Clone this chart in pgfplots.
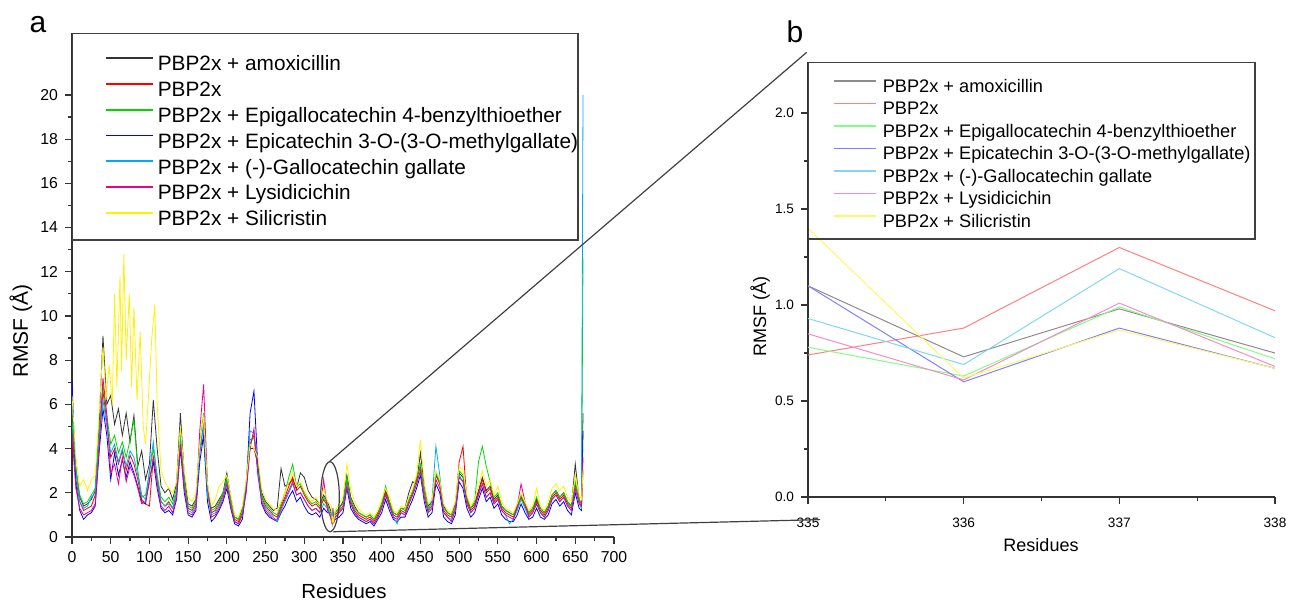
\documentclass[border=0pt]{standalone}
\usepackage{pgfplots}
\pgfplotsset{compat=1.18}
\usepackage{pgfplotstable}
\usepackage{fontspec}
\setmainfont{Liberation Sans}

\pgfplotstableread{
x A R G B C M
0 5.0 4.8 5.2 7.1 6.0 4.6
5 3.0 2.6 3.2 2.4 3.0 2.2
10 1.8 1.6 1.9 1.2 1.6 1.3
15 1.4 1.2 1.5 0.8 1.3 1.0
20 1.5 1.3 1.6 1.0 1.4 1.1
25 1.7 1.4 1.9 1.1 1.8 1.2
30 2.1 1.9 2.2 1.4 2.0 1.5
35 5.0 4.3 4.8 3.8 4.4 4.0
40 9.1 6.6 6.9 5.8 6.2 7.2
45 6.0 5.2 5.5 4.6 5.0 5.5
50 6.4 3.6 4.2 2.6 3.8 2.9
55 5.1 4.0 4.6 3.8 4.2 3.3
60 5.8 3.3 3.8 2.8 3.4 2.4
65 4.6 3.9 4.3 3.5 4.0 3.6
70 5.6 3.0 3.6 2.7 3.2 2.5
75 4.3 3.7 4.4 3.4 3.9 3.2
80 5.5 3.3 5.3 2.9 3.6 2.8
85 3.2 2.6 3.0 2.3 2.8 2.2
90 3.9 1.7 1.8 1.6 1.9 1.5
95 2.6 1.5 1.9 1.5 1.7 1.6
100 3.3 1.4 2.9 2.6 3.0 2.5
105 6.2 3.6 4.0 3.4 4.3 3.6
110 4.0 2.6 2.8 2.2 2.6 2.4
115 2.3 1.6 1.8 1.3 1.6 1.4
120 2.0 1.4 1.6 1.1 1.4 1.2
125 2.2 1.6 1.8 1.2 1.5 1.4
130 1.7 1.3 1.5 1.0 1.3 1.1
135 2.4 2.0 2.2 1.7 2.0 1.8
140 5.6 4.6 4.8 4.0 4.5 4.2
145 2.8 2.4 2.6 2.0 2.3 2.2
150 1.5 1.3 1.4 1.0 1.2 1.1
155 1.4 1.2 1.3 0.9 1.1 1.0
160 1.7 1.5 1.6 1.2 1.4 1.3
165 4.0 3.8 4.2 3.4 3.9 4.8
170 4.5 5.2 5.6 4.6 5.0 6.9
175 2.2 2.0 2.2 1.6 1.9 2.4
180 1.3 1.1 1.2 0.7 1.0 0.9
185 1.4 1.2 1.3 0.9 1.1 1.0
190 1.7 1.5 1.6 1.2 1.4 1.3
195 2.0 1.9 2.0 1.6 1.8 1.7
200 2.9 2.6 2.7 2.2 2.5 2.4
205 1.8 1.6 1.7 1.3 1.5 1.4
210 0.9 0.8 0.9 0.6 0.7 0.7
215 0.8 0.7 0.8 0.5 0.6 0.6
220 1.3 1.1 1.2 0.8 1.0 1.0
225 2.4 2.2 2.3 2.2 2.4 2.0
230 4.0 4.2 4.4 5.6 4.8 4.0
235 4.0 4.6 4.5 6.6 4.7 4.9
240 3.3 3.0 3.4 3.2 3.0 2.8
245 2.0 1.8 1.9 1.5 1.7 1.6
250 1.6 1.4 1.5 1.1 1.3 1.2
255 1.4 1.2 1.3 0.9 1.1 1.0
260 1.2 1.0 1.1 0.8 0.9 0.8
265 1.3 0.9 1.0 0.7 0.7 0.8
270 3.1 1.4 1.5 1.1 1.2 1.3
275 2.3 1.8 2.0 1.4 1.6 1.7
280 2.4 2.3 2.7 1.8 2.0 2.1
285 2.6 2.7 3.3 2.1 2.4 2.5
290 2.2 2.1 2.3 1.6 1.9 1.9
295 2.9 2.3 2.4 1.8 2.0 2.0
300 2.7 1.9 2.0 1.4 1.7 1.7
305 2.1 1.6 1.7 1.1 1.4 1.4
310 1.8 1.4 1.5 1.0 1.2 1.2
315 1.7 1.5 1.6 1.1 1.3 1.3
320 1.5 1.3 1.4 0.9 1.1 1.1
325 1.9 1.7 1.8 1.3 1.5 2.6
330 1.6 1.4 1.5 1.1 1.3 1.2
335 1.10 0.74 0.78 1.10 0.93 0.85
336 0.73 0.88 0.63 0.60 0.69 0.61
337 0.98 1.30 0.99 0.88 1.19 1.01
338 0.75 0.97 0.72 0.67 0.83 0.68
340 1.1 1.0 1.1 0.8 0.9 0.9
345 1.3 1.2 1.3 0.9 1.1 1.1
350 1.6 1.4 1.5 1.1 1.3 1.3
355 2.8 2.6 2.7 2.2 2.4 2.3
360 1.8 1.6 1.7 1.3 1.5 1.5
365 1.4 1.2 1.3 1.0 1.1 1.1
370 1.1 1.0 1.1 0.8 0.9 0.9
375 1.0 0.9 1.0 0.7 0.8 0.8
380 0.9 0.8 0.9 0.6 0.7 0.7
385 1.0 0.9 1.0 0.7 0.8 0.8
390 0.8 0.7 0.8 0.5 0.6 0.6
395 1.1 1.0 1.1 0.8 0.9 0.9
400 1.5 1.4 1.5 1.1 1.3 1.3
405 2.1 2.0 2.3 1.7 1.9 1.9
410 1.6 1.5 1.6 1.2 1.4 1.4
415 1.1 1.0 1.1 0.8 0.9 0.9
420 1.0 0.9 1.0 0.7 0.6 0.8
425 1.3 1.2 1.3 0.9 1.1 1.1
430 1.3 1.1 1.2 0.9 1.0 1.0
435 2.0 1.6 1.7 1.3 1.5 1.5
440 2.5 2.0 2.1 1.7 1.9 1.9
445 2.4 2.6 2.7 2.2 2.4 2.4
450 3.8 3.2 3.3 2.8 3.0 3.0
455 2.3 2.0 2.1 1.6 1.8 1.8
460 1.4 1.2 1.3 0.9 1.1 1.1
465 1.6 1.4 1.5 1.1 1.7 1.3
470 2.8 2.8 2.9 2.4 4.1 2.6
475 2.5 2.4 2.5 2.0 2.8 2.2
480 1.4 1.2 1.3 0.9 1.1 1.1
485 1.1 1.0 1.1 0.7 0.9 0.9
490 1.0 0.9 1.0 0.6 0.8 0.7
495 1.5 1.3 1.4 1.0 1.2 1.2
500 2.9 3.4 3.0 2.5 2.8 2.7
505 2.7 4.1 2.8 2.2 2.5 2.5
510 1.7 1.6 1.8 1.3 1.5 1.5
515 1.3 1.2 1.3 0.9 1.1 1.1
520 1.5 1.4 1.6 1.1 1.3 1.3
525 2.1 2.0 3.4 1.7 1.9 1.9
530 2.7 2.6 4.1 2.2 2.4 2.4
535 2.1 2.0 3.2 1.6 1.8 1.8
540 2.3 2.2 2.5 1.8 2.0 2.0
545 1.7 1.6 1.8 1.3 1.5 1.5
550 1.9 1.8 2.0 1.5 1.7 1.7
555 1.4 1.3 1.4 1.0 1.2 1.2
560 1.2 1.1 1.2 0.8 1.0 1.0
565 1.1 1.0 1.1 0.7 0.6 0.9
570 1.0 0.9 1.0 0.7 0.8 0.8
575 1.4 1.3 1.4 1.0 1.2 1.4
580 1.8 1.8 1.9 1.5 1.7 2.4
585 1.5 1.4 1.5 1.1 1.3 1.6
590 1.1 1.0 1.1 0.8 0.9 0.9
595 1.3 1.2 1.3 0.9 1.1 1.1
600 1.7 1.6 1.8 1.3 1.5 1.5
605 1.3 1.2 1.3 0.9 1.1 1.1
610 1.1 1.0 1.1 0.8 0.9 0.9
615 1.4 1.3 1.4 1.0 1.2 1.2
620 1.9 1.8 1.9 1.5 1.7 1.7
625 2.1 2.0 2.1 1.7 1.9 1.9
630 1.8 1.7 1.8 1.4 1.6 1.6
635 2.0 1.9 2.0 1.6 1.8 1.8
640 1.6 1.5 1.6 1.2 1.4 1.4
645 1.4 1.3 1.4 1.0 1.2 1.2
650 3.3 2.4 2.5 2.0 2.2 2.2
655 1.7 1.6 1.7 1.3 1.5 1.5
658 1.5 1.4 1.5 1.2 1.3 1.4
660 5.6 3.0 12.6 4.8 20.0 3.6
}\rmsf

\pgfplotstableread{
x Y
0 6.4
5 3.6
10 2.3
15 2.6
20 2.1
25 2.6
30 2.8
35 5.6
40 8.6
44 6.2
48 7.8
52 6.0
55 11.0
58 6.8
62 11.8
64 7.5
67 12.8
70 8.0
74 11.0
77 6.8
80 10.4
84 6.2
88 9.3
92 5.0
95 4.2
99 6.5
103 9.0
107 10.5
110 6.0
115 3.0
120 2.5
125 2.2
130 2.0
135 2.5
140 5.0
145 3.0
150 1.8
155 1.6
160 2.0
165 4.2
170 5.4
175 2.4
180 1.4
185 1.7
190 2.3
195 2.5
200 2.8
205 1.9
210 1.0
215 0.9
220 1.4
225 2.6
230 4.2
235 4.0
240 3.6
245 2.2
250 1.7
255 1.5
260 1.3
265 1.2
270 1.6
275 2.0
280 2.5
285 2.9
290 2.3
295 2.5
300 2.1
305 1.8
310 1.6
315 1.8
320 1.5
325 2.2
330 1.6
335 1.40
336 0.62
337 0.87
338 0.67
340 1.2
345 1.5
350 1.8
355 3.3
360 2.1
365 1.6
370 1.3
375 1.1
380 1.0
385 1.1
390 0.9
395 1.2
400 1.7
405 2.2
410 1.8
415 1.2
420 1.1
425 1.4
430 1.3
435 1.8
440 2.2
445 2.8
450 4.4
455 2.4
460 1.5
465 1.7
470 3.0
475 2.6
480 1.5
485 1.2
490 1.1
495 1.6
500 3.2
505 3.0
510 1.9
515 1.4
520 1.7
525 2.3
530 3.0
535 2.3
540 2.6
545 1.9
550 2.3
555 1.6
560 1.3
565 1.2
570 1.1
575 1.5
580 2.0
585 1.6
590 1.2
595 1.4
600 2.2
605 1.4
610 1.2
615 1.6
620 2.2
625 2.4
630 2.1
635 2.3
640 1.8
645 1.6
650 2.8
655 1.9
658 1.7
660 3.0
}\rmsfY

\pgfplotstableread{
x A R G B C M Y
335 1.10 0.74 0.78 1.10 0.93 0.85 1.40
336 0.73 0.88 0.63 0.60 0.69 0.61 0.62
337 0.98 1.30 0.99 0.88 1.19 1.01 0.87
338 0.75 0.97 0.72 0.67 0.83 0.68 0.67
}\zoomtab

\pgfplotsset{
  rmsfax/.style={
    scale only axis,
    axis lines*=left,
    axis line style={-, line width=0.75pt, black!80},
    tick align=outside,
    tick style={line width=0.6pt, black!80},
    major tick length=3.5pt,
    minor tick length=2pt,
    /pgf/number format/assume math mode=true,
    legend cell align=left,
  },
  legA/.style={legend image code/.code={%
    \draw[line width=0.85pt] (0pt,3.6pt) -- (23.5pt,3.6pt);
    \path[draw=none, fill=none] (0pt,3.6pt) rectangle (26pt,3.6pt);}},
  legB/.style={legend image code/.code={%
    \draw[line width=0.8pt] (0pt,3.2pt) -- (21pt,3.2pt);
    \path[draw=none, fill=none] (0pt,3.2pt) rectangle (24.5pt,3.2pt);}},
}

\begin{document}
\begin{tikzpicture}
\path[use as bounding box] (0,0) rectangle (645pt,-301pt);

% ---------- panel a ----------
\begin{axis}[rmsfax, legA,
  at={(36pt,-268.5pt)}, anchor=south west,
  width=271pt, height=252pt,
  xmin=0, xmax=700, ymin=0, ymax=22.8,
  xtick={0,50,...,700},
  minor xtick={25,75,...,675},
  ytick={0,2,...,20},
  minor ytick={1,3,...,19},
  ticklabel style={font=\fontsize{7.9}{9}\selectfont},
  legend style={at={(0.0609,0.9567)}, anchor=north west, draw=none, fill=none,
    inner sep=0pt, outer sep=0pt, row sep=2.4pt,
    font=\fontsize{10.4}{12}\selectfont,
    nodes={inner sep=0pt, text height=8pt, text depth=2.5pt}},
]
\addplot[black!80, line width=0.4pt] table[x=x, y=A] {\rmsf};
\addlegendentry{PBP2x + amoxicillin}
\addplot[red, line width=0.4pt] table[x=x, y=R] {\rmsf};
\addlegendentry{PBP2x}
\addplot[green!85!black, line width=0.4pt] table[x=x, y=G] {\rmsf};
\addlegendentry{PBP2x + Epigallocatechin 4-benzylthioether}
\addplot[blue, line width=0.4pt] table[x=x, y=B] {\rmsf};
\addlegendentry{PBP2x + Epicatechin 3-O-(3-O-methylgallate)}
\addplot[cyan, line width=0.4pt] table[x=x, y=C] {\rmsf};
\addlegendentry{PBP2x + (-)-Gallocatechin gallate}
\addplot[magenta, line width=0.4pt] table[x=x, y=M] {\rmsf};
\addlegendentry{PBP2x + Lysidicichin}
\addplot[yellow, line width=0.4pt] table[x=x, y=Y] {\rmsfY};
\addlegendentry{PBP2x + Silicristin}
\draw[black!75, line width=0.75pt] (rel axis cs:0,1) rectangle (rel axis cs:0.9336,0.589);
\end{axis}

% ---------- panel b ----------
\begin{axis}[rmsfax, legB,
  at={(404pt,-248.5pt)}, anchor=south west,
  width=233.5pt, height=217.5pt,
  xmin=335, xmax=338, ymin=0, ymax=2.266,
  xtick={335,336,337,338},
  minor xtick={335.5,336.5,337.5},
  ytick={0,0.5,1,1.5,2},
  minor ytick={0.25,0.75,1.25,1.75},
  yticklabel style={/pgf/number format/.cd, fixed, fixed zerofill, precision=1},
  ticklabel style={font=\fontsize{6.8}{8}\selectfont},
  xticklabel style={yshift=-3.5pt},
  legend style={at={(0.0535,0.9628)}, anchor=north west, draw=none, fill=none,
    inner sep=0pt, outer sep=0pt, row sep=2.07pt,
    font=\fontsize{9.1}{11}\selectfont,
    nodes={inner sep=0pt, text height=7pt, text depth=2.2pt}},
]
\addplot[black!45, line width=0.5pt] table[x=x, y=A] {\zoomtab};
\addlegendentry{PBP2x + amoxicillin}
\addplot[red!50, line width=0.5pt] table[x=x, y=R] {\zoomtab};
\addlegendentry{PBP2x}
\addplot[green!50, line width=0.5pt] table[x=x, y=G] {\zoomtab};
\addlegendentry{PBP2x + Epigallocatechin 4-benzylthioether}
\addplot[blue!50, line width=0.5pt] table[x=x, y=B] {\zoomtab};
\addlegendentry{PBP2x + Epicatechin 3-O-(3-O-methylgallate)}
\addplot[cyan!50, line width=0.5pt] table[x=x, y=C] {\zoomtab};
\addlegendentry{PBP2x + (-)-Gallocatechin gallate}
\addplot[magenta!45, line width=0.5pt] table[x=x, y=M] {\zoomtab};
\addlegendentry{PBP2x + Lysidicichin}
\addplot[yellow!60, line width=0.5pt] table[x=x, y=Y] {\zoomtab};
\addlegendentry{PBP2x + Silicristin}
\draw[black!75, line width=0.75pt] (rel axis cs:0,1) rectangle (rel axis cs:0.957,0.593);
\end{axis}

% ---------- annotations ----------
\draw[black!75, line width=0.6pt] (165pt,-248.35pt) ellipse [x radius=4.65pt, y radius=17.5pt];
\draw[black!75, line width=0.6pt] (164.65pt,-230.85pt) -- (403.35pt,-26.15pt);
\draw[black!75, line width=0.6pt] (166.65pt,-265.85pt) -- (410pt,-259.8pt);

\node[font=\fontsize{15}{17}\selectfont] at (19pt,-12.5pt) {a};
\node[font=\fontsize{15}{17}\selectfont] at (397.5pt,-16pt) {b};
\node[font=\fontsize{10.5}{12}\selectfont, rotate=90] at (10.5pt,-165.5pt) {RMSF (Å)};
\node[font=\fontsize{10.2}{12}\selectfont] at (172pt,-295.8pt) {Residues};
\node[font=\fontsize{9}{11}\selectfont, rotate=90] at (380pt,-158pt) {RMSF (Å)};
\node[font=\fontsize{9}{11}\selectfont] at (520.5pt,-272.3pt) {Residues};
\end{tikzpicture}
\end{document}
